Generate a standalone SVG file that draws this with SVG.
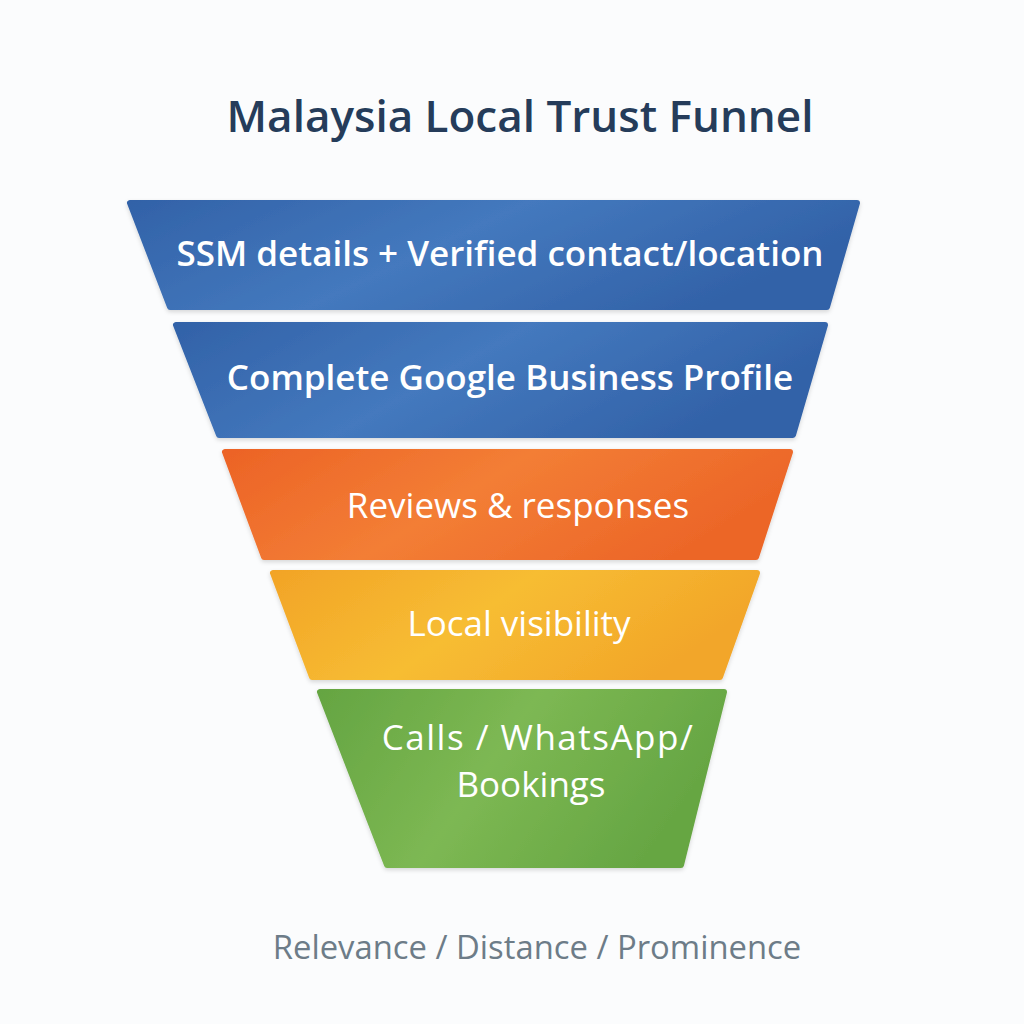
<svg xmlns="http://www.w3.org/2000/svg" width="1024" height="1024" viewBox="0 0 1024 1024">
  <defs>
    <linearGradient id="gBlue" x1="0" y1="0" x2="1" y2="0.3">
      <stop offset="0" stop-color="#3262a8"/>
      <stop offset="0.5" stop-color="#4479be"/>
      <stop offset="1" stop-color="#3262a8"/>
    </linearGradient>
    <linearGradient id="gOrange" x1="0" y1="0" x2="1" y2="0.3">
      <stop offset="0" stop-color="#ec6326"/>
      <stop offset="0.5" stop-color="#f37e35"/>
      <stop offset="1" stop-color="#ec6628"/>
    </linearGradient>
    <linearGradient id="gYellow" x1="0" y1="0" x2="1" y2="0.3">
      <stop offset="0" stop-color="#f2a427"/>
      <stop offset="0.5" stop-color="#f7bd33"/>
      <stop offset="1" stop-color="#f2a629"/>
    </linearGradient>
    <linearGradient id="gGreen" x1="0" y1="0" x2="1" y2="0.3">
      <stop offset="0" stop-color="#65a542"/>
      <stop offset="0.5" stop-color="#7db853"/>
      <stop offset="1" stop-color="#66a643"/>
    </linearGradient>
    <filter id="sh" x="-5%" y="-5%" width="110%" height="120%">
      <feDropShadow dx="0" dy="2" stdDeviation="2" flood-color="#000" flood-opacity="0.15"/>
    </filter>
  </defs>
  <style>
    .layer { stroke-width: 6; stroke-linejoin: round; filter: url(#sh); }
    .lbl { font-family: "Open Sans", "Noto Sans", sans-serif; fill: #ffffff; text-anchor: middle; font-size: 35px; }
    .b1 { font-weight: 600; }
    .title { font-family: "Open Sans", "Noto Sans", sans-serif; font-weight: 600; font-size: 44px; fill: #253c5a; text-anchor: middle; }
    .foot { font-family: "Open Sans", "Noto Sans", sans-serif; font-size: 32.8px; fill: #6d7c88; text-anchor: middle; }
  </style>
  <rect width="1024" height="1024" fill="#fbfcfd"/>
  <text class="title" x="520" y="132">Malaysia Local Trust Funnel</text>

  <g id="layer1">
    <polygon class="layer" fill="url(#gBlue)" stroke="url(#gBlue)" points="130,203 857,203 827,307 170,307"/>
    <text class="lbl b1" x="500" y="266" font-size="34">SSM details + Verified contact/location</text>
  </g>
  <g id="layer2">
    <polygon class="layer" fill="url(#gBlue)" stroke="url(#gBlue)" points="176,325 825,325 793,435 219,435"/>
    <text class="lbl b1" x="510" y="390" font-size="34.3">Complete Google Business Profile</text>
  </g>
  <g id="layer3">
    <polygon class="layer" fill="url(#gOrange)" stroke="url(#gOrange)" points="225,452 790,452 756,557 264,557"/>
    <text class="lbl" x="518" y="518">Reviews &amp; responses</text>
  </g>
  <g id="layer4">
    <polygon class="layer" fill="url(#gYellow)" stroke="url(#gYellow)" points="273,573 757,573 720,677 312,677"/>
    <text class="lbl" x="519" y="636">Local visibility</text>
  </g>
  <g id="layer5">
    <polygon class="layer" fill="url(#gGreen)" stroke="url(#gGreen)" points="320,692 724,692 681,865 387,865"/>
    <text class="lbl" x="538" y="750" letter-spacing="1.5">Calls / WhatsApp/</text>
    <text class="lbl" x="531" y="797">Bookings</text>
  </g>
  <text class="foot" x="537" y="959">Relevance / Distance / Prominence</text>
</svg>
